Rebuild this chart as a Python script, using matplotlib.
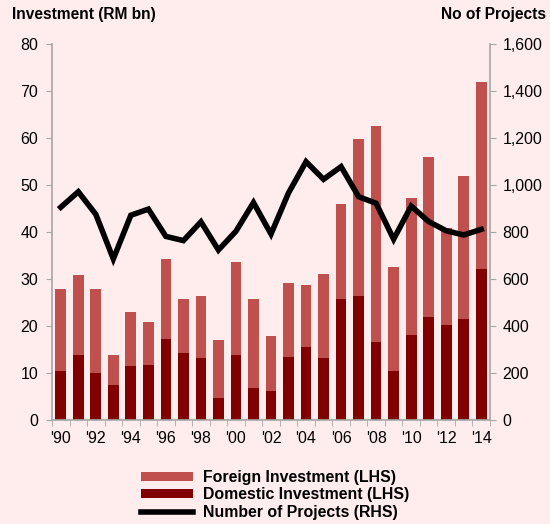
import matplotlib.pyplot as plt
import numpy as np
from matplotlib.lines import Line2D
from matplotlib.patches import Patch
from matplotlib.ticker import FuncFormatter

plt.rcParams["font.family"] = ["Liberation Sans", "DejaVu Sans"]

years = list(range(1990, 2015))
total = [28.0, 30.8, 27.8, 13.8, 22.9, 20.8, 34.3, 25.8, 26.4, 17.0,
         33.6, 25.8, 17.9, 29.1, 28.7, 31.0, 46.0, 59.9, 62.7, 32.6,
         47.2, 56.1, 40.9, 52.0, 71.9]
domestic = [10.4, 13.8, 10.0, 7.4, 11.5, 11.7, 17.2, 14.2, 13.2, 4.6,
            13.8, 6.8, 6.2, 13.4, 15.5, 13.1, 25.7, 26.3, 16.6, 10.4,
            18.1, 21.9, 20.2, 21.5, 32.2]
projects = [906, 972, 876, 686, 872, 898, 782, 764, 844, 724,
            804, 926, 792, 967, 1100, 1025, 1079, 951, 923, 770,
            911, 845, 806, 788, 812]
foreign = [t - d for t, d in zip(total, domestic)]

bg = "#FFEDED"
light = "#C0504D"
dark = "#800000"
spine = "#A6A6A6"

fig = plt.figure(figsize=(5.5, 5.24), dpi=100, facecolor=bg)
ax = fig.add_axes([52 / 550, 1 - 420 / 524, (490 - 52) / 550, (420 - 44.3) / 524])
ax.set_facecolor(bg)

x = np.arange(len(years))
ax.bar(x, domestic, width=0.61, color=dark, zorder=2)
ax.bar(x, foreign, width=0.61, bottom=domestic, color=light, zorder=2)

ax.set_xlim(-0.5, len(years) - 0.5)
ax.set_ylim(0, 80)
ax.set_yticks(range(0, 81, 10))
ax.set_xticks(x[::2])
ax.set_xticklabels([f"'{y % 100:02d}" for y in years[::2]])
ax.set_xticks(np.arange(-0.5, len(years)), minor=True)
ax.tick_params(axis="x", which="major", length=0, pad=8, labelsize=11.5)
ax.tick_params(axis="x", which="minor", length=4, color=spine, direction="out")
ax.tick_params(axis="y", length=4, color=spine, labelsize=11.5, pad=6)

for side in ("top", "right"):
    ax.spines[side].set_visible(False)
for side in ("left", "bottom"):
    ax.spines[side].set_color(spine)
    ax.spines[side].set_linewidth(1.2)

ax2 = ax.twinx()
ax2.plot(x, projects, color="black", linewidth=4, solid_joinstyle="miter", zorder=3)
ax2.set_ylim(0, 1600)
ax2.set_yticks(range(0, 1601, 200))
ax2.yaxis.set_major_formatter(FuncFormatter(lambda v, _: f"{int(v):,}"))
ax2.tick_params(axis="y", length=4, color=spine, labelsize=11.5, pad=5)
for side in ("top", "left", "bottom"):
    ax2.spines[side].set_visible(False)
ax2.spines["right"].set_color(spine)
ax2.spines["right"].set_linewidth(1.2)

fig.text(12 / 550, 1 - 15 / 524, "Investment (RM bn)", fontsize=11.2,
         fontweight="bold", ha="left", va="center")
fig.text(546 / 550, 1 - 15 / 524, "No of Projects", fontsize=11.2,
         fontweight="bold", ha="right", va="center")

handles = [
    Patch(facecolor=light, label="Foreign Investment (LHS)"),
    Patch(facecolor=dark, label="Domestic Investment (LHS)"),
    Line2D([0], [0], color="black", linewidth=4, label="Number of Projects (RHS)"),
]
leg = fig.legend(handles=handles, loc="center", bbox_to_anchor=(275 / 550, 1 - 495 / 524),
                 frameon=False, fontsize=11.4, handlelength=3.3, handleheight=0.5,
                 labelspacing=0.15, handletextpad=0.65)
for t in leg.get_texts():
    t.set_fontweight("bold")

fig.savefig("out.png", dpi=100, facecolor=bg)
